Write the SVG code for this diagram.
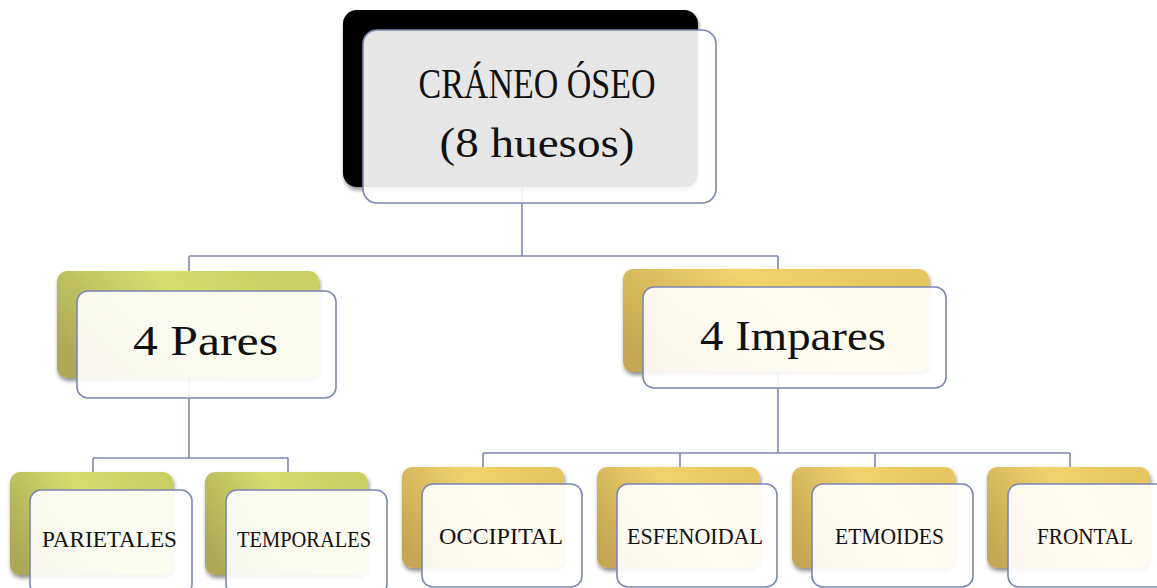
<svg xmlns="http://www.w3.org/2000/svg" width="1157" height="588" viewBox="0 0 1157 588">
<defs>
<linearGradient id="gOlive" x1="0" y1="0.7" x2="1" y2="0.3">
<stop offset="0" stop-color="#aca858"/>
<stop offset="0.55" stop-color="#d5dd6b"/>
<stop offset="1" stop-color="#c9cf60"/>
</linearGradient>
<linearGradient id="gGold" x1="0" y1="0.7" x2="1" y2="0.3">
<stop offset="0" stop-color="#c6a654"/>
<stop offset="0.55" stop-color="#f0d36a"/>
<stop offset="1" stop-color="#e6c65e"/>
</linearGradient>
<filter id="sh" x="-10%" y="-10%" width="125%" height="130%">
<feGaussianBlur in="SourceAlpha" stdDeviation="2"/>
<feOffset dx="1" dy="3" result="b"/>
<feComponentTransfer><feFuncA type="linear" slope="0.45"/></feComponentTransfer>
<feMerge><feMergeNode/><feMergeNode in="SourceGraphic"/></feMerge>
</filter>
</defs>
<style>
.conn{fill:none;stroke:#8088b2;stroke-width:1.6}
.front{fill:#ffffff;fill-opacity:0.9;stroke:#7c86b4;stroke-width:1.6}
.olive{fill:url(#gOlive);filter:url(#sh)}
.gold{fill:url(#gGold);filter:url(#sh)}
.big{font-family:"Liberation Serif","DejaVu Serif",serif;font-size:42px;fill:#111;text-anchor:middle}
.mid{font-family:"Liberation Serif","DejaVu Serif",serif;font-size:42px;fill:#111;text-anchor:middle}
.small{font-family:"Liberation Serif","DejaVu Serif",serif;font-size:23px;fill:#111;text-anchor:middle}
</style>
<g id="connectors">
<path class="conn" d="M522,187 V256 M189,256 H778 M189,256 V272 M778,256 V270"/>
<path class="conn" d="M189,378 V458 M93,458 H288 M93,458 V472 M288,458 V472"/>
<path class="conn" d="M778,372 V453 M483,453 H1070 M483,453 V467 M680,453 V467 M875,453 V467 M1070,453 V467"/>
</g>
<g id="root">
<rect x="343" y="10" width="355" height="177" rx="14" fill="#000" filter="url(#sh)"/>
<rect class="front" x="363" y="30" width="353" height="173" rx="14"/>
<text class="big" x="537" y="98" textLength="237" lengthAdjust="spacingAndGlyphs">CRÁNEO ÓSEO</text>
<text class="big" x="537" y="157" textLength="195" lengthAdjust="spacingAndGlyphs">(8 huesos)</text>
</g>
<g id="pares">
<rect class="olive" x="57" y="271" width="262" height="107" rx="10"/>
<rect class="front" x="77" y="291" width="259" height="107" rx="11"/>
<text class="mid" x="205.5" y="355" textLength="145" lengthAdjust="spacingAndGlyphs">4 Pares</text>
</g>
<g id="impares">
<rect class="gold" x="623" y="269" width="306" height="103" rx="10"/>
<rect class="front" x="643" y="287" width="303" height="101" rx="11"/>
<text class="mid" x="793" y="350" textLength="186" lengthAdjust="spacingAndGlyphs">4 Impares</text>
</g>
<g id="parietales">
<rect class="olive" x="10" y="472" width="163" height="103" rx="10"/>
<rect class="front" x="30" y="490" width="162" height="105" rx="11"/>
<text class="small" x="109.5" y="547" textLength="135" lengthAdjust="spacingAndGlyphs">PARIETALES</text>
</g>
<g id="temporales">
<rect class="olive" x="205" y="472" width="163" height="103" rx="10"/>
<rect class="front" x="226" y="490" width="161" height="105" rx="11"/>
<text class="small" x="304" y="547" textLength="134" lengthAdjust="spacingAndGlyphs">TEMPORALES</text>
</g>
<g id="occipital">
<rect class="gold" x="402" y="467" width="162" height="101" rx="10"/>
<rect class="front" x="422" y="484" width="160" height="103" rx="11"/>
<text class="small" x="501" y="544" textLength="124" lengthAdjust="spacingAndGlyphs">OCCIPITAL</text>
</g>
<g id="esfenoidal">
<rect class="gold" x="597" y="467" width="163" height="101" rx="10"/>
<rect class="front" x="617" y="484" width="160" height="103" rx="11"/>
<text class="small" x="695" y="544" textLength="136" lengthAdjust="spacingAndGlyphs">ESFENOIDAL</text>
</g>
<g id="etmoides">
<rect class="gold" x="792" y="467" width="163" height="101" rx="10"/>
<rect class="front" x="812" y="484" width="161" height="103" rx="11"/>
<text class="small" x="889.5" y="544" textLength="109" lengthAdjust="spacingAndGlyphs">ETMOIDES</text>
</g>
<g id="frontal">
<rect class="gold" x="987" y="467" width="163" height="101" rx="10"/>
<rect class="front" x="1008" y="484" width="162" height="103" rx="11"/>
<text class="small" x="1085" y="544" textLength="96" lengthAdjust="spacingAndGlyphs">FRONTAL</text>
</g>
</svg>
